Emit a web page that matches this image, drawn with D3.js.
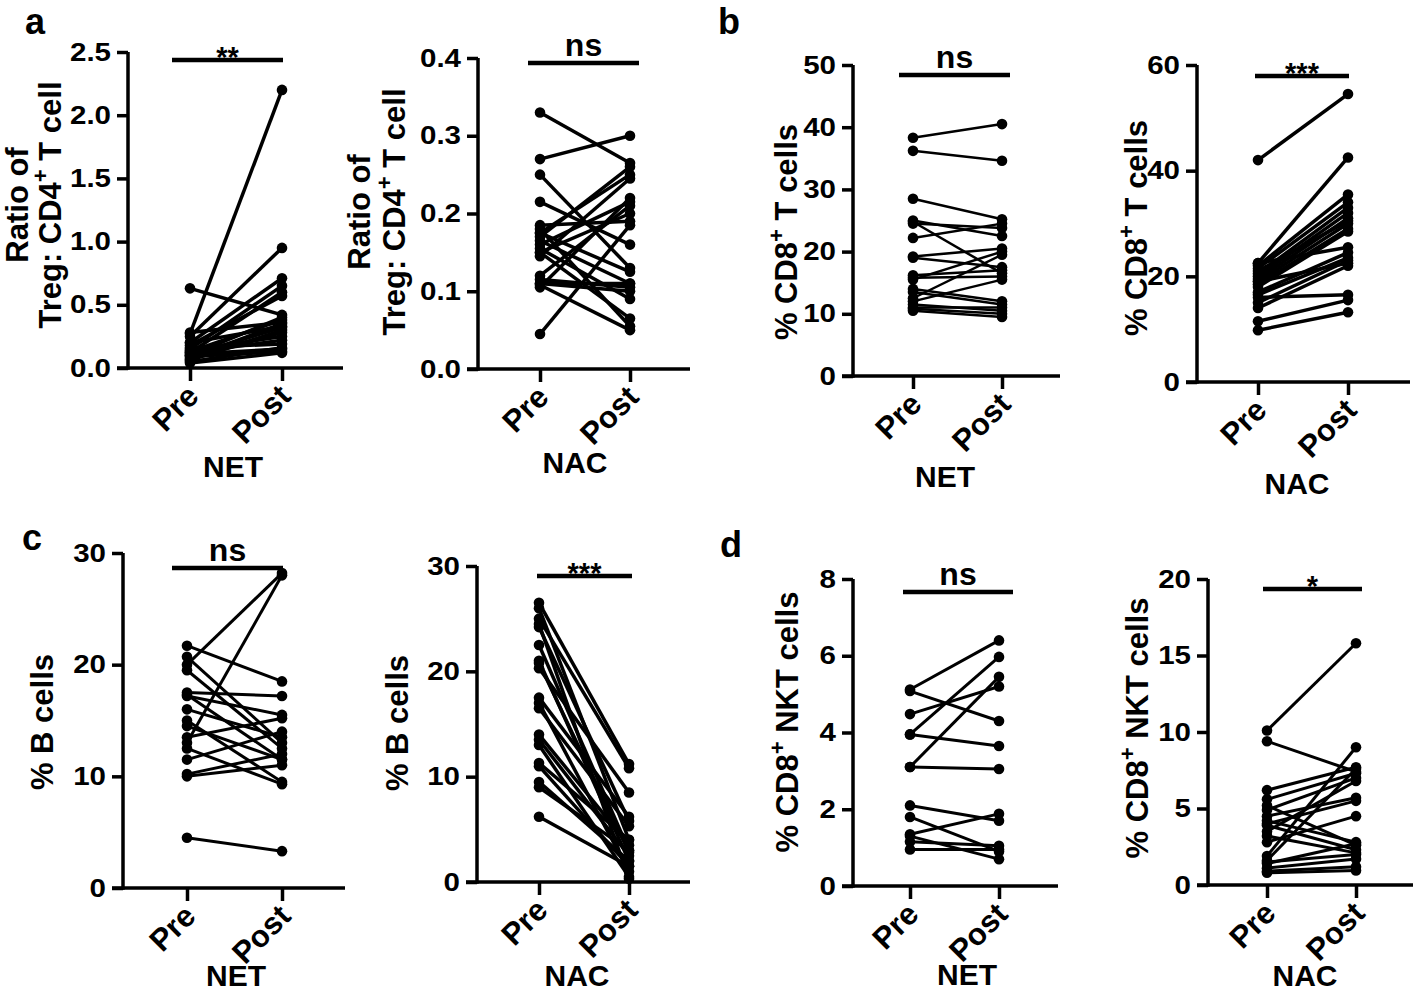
<!DOCTYPE html>
<html><head><meta charset="utf-8">
<script src="https://cdn.jsdelivr.net/npm/d3@7"></script>
<style>
body{margin:0;background:#fff}
svg{display:block}
text{font-family:"Liberation Sans",Arial,Helvetica,sans-serif;font-weight:bold;fill:#000}
</style>
</head><body>
<svg id="chart" width="1418" height="994"></svg>
<script>
// ---------- DATA ----------
const timepoints = ["Pre", "Post"];

// a: Ratio of Treg : CD4+ T cell
const tregNETPre  = [0.27,0.25,0.63,0.20,0.15,0.12,0.18,0.10,0.08,0.13,0.06,0.10,0.14,0.07,0.05,0.09,0.11,0.12,0.20,0.28,0.16,0.04];
const tregNETPost = [2.20,0.95,0.42,0.71,0.65,0.60,0.57,0.40,0.35,0.38,0.30,0.32,0.25,0.28,0.16,0.13,0.15,0.22,0.33,0.36,0.19,0.12];
const tregNACPre  = [0.33,0.27,0.25,0.215,0.185,0.18,0.175,0.17,0.165,0.16,0.155,0.15,0.145,0.12,0.115,0.11,0.108,0.105,0.045,0.175,0.11,0.15];
const tregNACPost = [0.265,0.30,0.13,0.16,0.19,0.055,0.25,0.26,0.11,0.215,0.09,0.065,0.245,0.21,0.105,0.11,0.05,0.22,0.185,0.125,0.10,0.20];
const tregNETTicks = [0, 0.5, 1.0, 1.5, 2.0, 2.5];
const tregNACTicks = [0, 0.1, 0.2, 0.3, 0.4];

// b: % CD8+ T cells
const cd8NETPre  = [38.3,36.2,28.5,25.0,24.8,24.5,22.2,19.2,19.0,16.2,15.8,15.5,14.0,13.5,12.5,11.5,11.0,10.8,10.5,12.0];
const cd8NETPost = [40.5,34.6,25.2,22.5,16.5,23.8,24.5,20.5,17.5,17.0,16.0,20.0,12.0,11.5,19.5,10.5,11.0,10.0,9.5,15.5];
const cd8NACPre  = [42.0,22.5,22.0,21.5,20.5,20.0,19.5,19.0,18.5,18.0,22.5,17.0,16.5,16.0,15.0,14.0,11.5,9.8,21.0,19.0];
const cd8NACPost = [54.5,42.5,35.5,34.0,33.0,32.0,31.0,30.0,29.0,28.5,25.5,24.5,23.5,16.5,23.0,22.0,15.5,13.2,30.5,22.5];
const cd8NETTicks = [0, 10, 20, 30, 40, 50];
const cd8NACTicks = [0, 20, 40, 60];

// c: % B cells
const bNETPre  = [21.7,20.7,20.0,13.0,19.5,17.5,17.2,16.0,15.0,14.5,13.5,12.5,11.5,10.2,10.0,4.5,17.3];
const bNETPost = [18.5,13.0,28.2,28.0,12.5,17.2,15.5,13.5,9.5,11.5,15.2,9.3,14.0,12.0,11.0,3.3,11.5];
const bNACPre  = [26.5,26.0,25.0,24.2,22.5,21.0,20.3,17.5,17.0,16.5,14.0,13.5,13.0,11.3,11.0,9.5,9.0,6.2,24.5,20.8];
const bNACPost = [11.2,4.0,10.8,5.8,3.0,2.0,8.5,6.2,1.0,5.3,3.5,2.5,0.5,4.0,1.5,2.0,3.0,1.5,0.3,2.8];
const bTicks = [0, 10, 20, 30];

// d: % CD8+ NKT cells
const nktNETPre  = [5.12,5.08,4.48,3.95,3.95,3.10,3.10,2.10,1.80,1.35,1.30,1.15,0.95];
const nktNETPost = [6.40,4.30,5.20,5.97,3.65,5.45,3.05,1.70,0.90,1.88,0.70,1.05,0.95];
const nktNACPre  = [10.1,9.4,6.2,5.6,5.2,4.9,4.5,4.2,3.9,3.5,3.2,2.8,1.9,1.6,1.4,1.1,0.9,0.8,4.0,1.5];
const nktNACPost = [15.8,7.4,7.7,7.3,2.6,7.0,5.7,2.8,2.3,6.8,2.1,4.5,9.0,7.6,2.7,1.7,1.2,0.95,5.5,2.0];
const nktNETTicks = [0, 2, 4, 6, 8];
const nktNACTicks = [0, 5, 10, 15, 20];

// ---------- LAYOUT ----------
const panels = [
  {pre:tregNETPre, post:tregNETPost, ticks:tregNETTicks, fmt:".1f", group:"NET", sig:"**",
   title:[["Ratio of"],["Treg: CD4","+"," T cell"]], titleX:[28,61], titleY:205,
   ax:128, y0:368, yTop:52, px:190, qx:282, xEnd:343, barY:60, b1:172, b2:283, groupY:477, groupX:233, lw:3.5},
  {pre:tregNACPre, post:tregNACPost, ticks:tregNACTicks, fmt:".1f", group:"NAC", sig:"ns",
   title:[["Ratio of"],["Treg: CD4","+"," T cell"]], titleX:[370,405], titleY:212,
   ax:478, y0:369, yTop:58, px:540, qx:630, xEnd:690, barY:63, b1:528, b2:639, groupY:473, groupX:575, lw:3.5},
  {pre:cd8NETPre, post:cd8NETPost, ticks:cd8NETTicks, fmt:"d", group:"NET", sig:"ns",
   title:[["% CD8","+"," T cells"]], titleX:[797], titleY:232,
   ax:853, y0:376, yTop:65, px:913, qx:1002, xEnd:1060, barY:75, b1:899, b2:1010, groupY:487, groupX:945, lw:2.5},
  {pre:cd8NACPre, post:cd8NACPost, ticks:cd8NACTicks, fmt:"d", group:"NAC", sig:"***",
   title:[["% CD8","+"," T cells"]], titleX:[1147], titleY:228,
   ax:1197, y0:382, yTop:65, px:1258, qx:1348, xEnd:1410, barY:76, b1:1255, b2:1349, groupY:494, groupX:1297, lw:3.5},
  {pre:bNETPre, post:bNETPost, ticks:bTicks, fmt:"d", group:"NET", sig:"ns",
   title:[["% B cells"]], titleX:[53], titleY:722,
   ax:123, y0:888, yTop:553, px:187, qx:282, xEnd:345, barY:568, b1:172, b2:283, groupY:986, groupX:236, lw:3},
  {pre:bNACPre, post:bNACPost, ticks:bTicks, fmt:"d", group:"NAC", sig:"***",
   title:[["% B cells"]], titleX:[408], titleY:723,
   ax:477, y0:882, yTop:566, px:539, qx:629, xEnd:690, barY:576, b1:537, b2:632, groupY:986, groupX:577, lw:3.5},
  {pre:nktNETPre, post:nktNETPost, ticks:nktNETTicks, fmt:"d", group:"NET", sig:"ns",
   title:[["% CD8","+"," NKT cells"]], titleX:[798], titleY:722,
   ax:853, y0:886, yTop:579, px:910, qx:999, xEnd:1058, barY:592, b1:903, b2:1013, groupY:985, groupX:967, lw:3},
  {pre:nktNACPre, post:nktNACPost, ticks:nktNACTicks, fmt:"d", group:"NAC", sig:"*",
   title:[["% CD8","+"," NKT cells"]], titleX:[1148], titleY:728,
   ax:1208, y0:885, yTop:579, px:1267, qx:1356, xEnd:1413, barY:589, b1:1263, b2:1362, groupY:986, groupX:1305, lw:3}
];
const letters = [{t:"a",x:25,y:34},{t:"b",x:718,y:34},{t:"c",x:22,y:550},{t:"d",x:720,y:557}];

const svg = d3.select("#chart");
const TICK = 11, AXW = 3.5;

panels.forEach(p => {
  const g = svg.append("g");
  const y = d3.scaleLinear().domain([0, d3.max(p.ticks)]).range([p.y0, p.yTop]);
  const x = d3.scalePoint().domain(timepoints).range([p.px, p.qx]);

  // y axis
  const ya = g.append("g").attr("transform", `translate(${p.ax},0)`)
    .call(d3.axisLeft(y).tickValues(p.ticks).tickSize(TICK).tickSizeOuter(0).tickFormat(d3.format(p.fmt)));
  ya.selectAll("path,line").attr("stroke", "#000").attr("stroke-width", AXW);
  ya.select(".domain").attr("d", `M0,${p.y0 + AXW/2}V${p.yTop}`);
  ya.selectAll("text").attr("x", 0).attr("transform", `translate(${-(TICK + 6)},0) scale(1.18,1)`)
    .attr("font-size", 25).attr("font-family", null).attr("fill", "#000");

  // x axis
  const xa = g.append("g").attr("transform", `translate(0,${p.y0})`)
    .call(d3.axisBottom(x).tickSize(13).tickSizeOuter(0));
  xa.select(".domain").attr("d", `M${p.ax - TICK},0H${p.xEnd}`);
  xa.selectAll("path,line").attr("stroke", "#000").attr("stroke-width", AXW);
  xa.selectAll("text").attr("y", null).attr("dy", null)
    .attr("transform", "translate(10,30) rotate(-45)")
    .attr("text-anchor", "end").attr("font-size", 31).attr("font-family", null).attr("fill", "#000");

  // paired lines
  const pairs = p.pre.map((v, i) => ({pre: v, post: p.post[i]}));
  g.append("g").selectAll("line").data(pairs).join("line")
    .attr("x1", x("Pre")).attr("x2", x("Post"))
    .attr("y1", d => y(d.pre)).attr("y2", d => y(d.post))
    .attr("stroke", "#000").attr("stroke-width", p.lw);
  const pts = pairs.flatMap(d => [{t:"Pre", v:d.pre}, {t:"Post", v:d.post}]);
  g.append("g").selectAll("circle").data(pts).join("circle")
    .attr("cx", d => x(d.t)).attr("cy", d => y(d.v)).attr("r", 5.3).attr("fill", "#000");

  // significance bar
  g.append("line").attr("x1", p.b1).attr("x2", p.b2).attr("y1", p.barY).attr("y2", p.barY)
    .attr("stroke", "#000").attr("stroke-width", 4.5);
  const isStar = p.sig.indexOf("*") >= 0;
  g.append("text").attr("x", (p.b1 + p.b2) / 2).attr("y", isStar ? p.barY + 7 : p.barY - 7)
    .attr("text-anchor", "middle").attr("font-size", isStar ? 29 : 32)
    .text(p.sig);

  // y title
  p.title.forEach((parts, li) => {
    const t = g.append("text").attr("transform", `translate(${p.titleX[li]},${p.titleY}) rotate(-90)`)
      .attr("text-anchor", "middle").attr("font-size", 31);
    if (parts.length === 1) t.text(parts[0]);
    else {
      t.append("tspan").text(parts[0]);
      t.append("tspan").attr("dy", -13).attr("font-size", 22).text(parts[1]);
      t.append("tspan").attr("dy", 13).text(parts[2]);
    }
  });

  // group label
  g.append("text").attr("x", p.groupX).attr("y", p.groupY).attr("text-anchor", "middle")
    .attr("font-size", 30).text(p.group);
});

svg.selectAll(".letter").data(letters).join("text").attr("class", "letter")
  .attr("x", d => d.x).attr("y", d => d.y).attr("font-size", 36).text(d => d.t);
</script>
</body></html>
